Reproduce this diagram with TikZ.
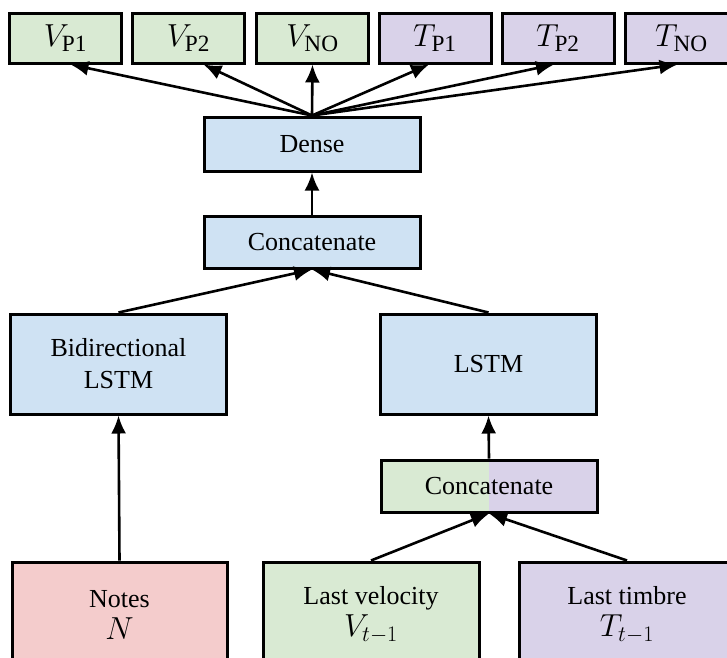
\documentclass[tikz,border=0pt]{standalone}
\usepackage{fontspec}
\setmainfont{Liberation Serif}
\usetikzlibrary{arrows.meta}
\definecolor{cblue}{HTML}{CFE2F3}
\definecolor{cgreen}{HTML}{D9EAD3}
\definecolor{cpurple}{HTML}{D9D2E9}
\definecolor{cred}{HTML}{F4CCCC}
\newcommand\mymath[1]{\scalebox{1.28}{$#1$}}
\begin{document}
\begin{tikzpicture}[x=1pt,y=-1pt,
  box/.style={draw=black, line width=3pt, inner sep=0pt, align=center,
    minimum width=216, font=\fontsize{26}{32}\selectfont},
  topbox/.style={box, minimum width=112, minimum height=50},
  arr/.style={line width=2.6pt, -{Latex[length=18pt,width=15pt]}}]
\useasboundingbox (0,0) rectangle (727,657);
\clip (0,0) rectangle (727,657);
% top outputs
\node[topbox, fill=cgreen] (vp1) at (65.5,38) {\mymath{V_{\mathrm{P1}}}};
\node[topbox, fill=cgreen] (vp2) at (188.5,38) {\mymath{V_{\mathrm{P2}}}};
\node[topbox, fill=cgreen] (vno) at (312.5,38) {\mymath{V_{\mathrm{NO}}}};
\node[topbox, fill=cpurple] (tp1) at (435,38) {\mymath{T_{\mathrm{P1}}}};
\node[topbox, fill=cpurple] (tp2) at (558,38) {\mymath{T_{\mathrm{P2}}}};
\node[topbox, fill=cpurple] (tno) at (681.5,38) {\mymath{T_{\mathrm{NO}}}};
% middle
\node[box, fill=cblue, minimum height=54] (dense) at (312,144) {Dense};
\node[box, fill=cblue, minimum height=52] (cat) at (312,242) {Concatenate};
\node[box, fill=cblue, minimum height=100] (bilstm) at (118.5,364) {Bidirectional\\LSTM};
\node[box, fill=cblue, minimum height=100] (lstm) at (488.5,364) {LSTM};
\node[box, minimum height=52,
  path picture={\fill[cgreen] (path picture bounding box.south west) rectangle (path picture bounding box.north);
                \fill[cpurple] (path picture bounding box.north) rectangle (path picture bounding box.south east);}]
  (cat2) at (489,486) {Concatenate};
% inputs
\node[box, fill=cred, minimum height=106, minimum width=215] (notes) at (119.5,615) {Notes\\[0pt]\mymath{N}};
\node[box, fill=cgreen, minimum height=106] (vel) at (371,615) {Last velocity\\[0pt]\mymath{V_{t-1}}};
\node[box, fill=cpurple, minimum height=106] (tim) at (627,615) {Last timbre\\[0pt]\mymath{T_{t-1}}};
% connectors
\draw[arr] (dense.north) -- ([xshift=5pt]vp1.south);
\draw[arr] (dense.north) -- ([xshift=15pt]vp2.south);
\draw[arr] (dense.north) -- (vno.south);
\draw[arr] (dense.north) -- ([xshift=-6pt]tp1.south);
\draw[arr] (dense.north) -- ([xshift=-4pt]tp2.south);
\draw[arr] (dense.north) -- ([xshift=-4pt]tno.south);
\draw[arr] (cat.north) -- (dense.south);
\draw[arr] (bilstm.north) -- (cat.south);
\draw[arr] (lstm.north) -- (cat.south);
\draw[arr] (cat2.north) -- (lstm.south);
\draw[arr] (notes.north) -- (bilstm.south);
\draw[arr] (vel.north) -- (cat2.south);
\draw[arr] (tim.north) -- (cat2.south);
\end{tikzpicture}
\end{document}
